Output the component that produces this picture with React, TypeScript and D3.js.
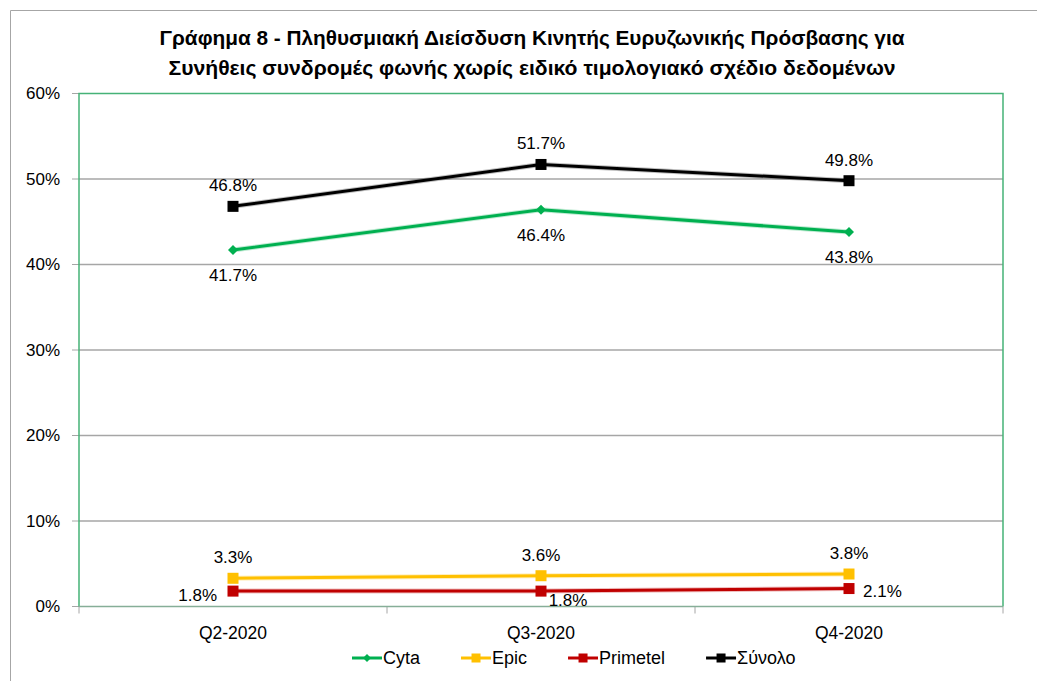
import React, { useRef, useEffect } from "react";
import * as d3 from "d3";

const categories = ["Q2-2020", "Q3-2020", "Q4-2020"];
const cyta = [41.7, 46.4, 43.8];
const epic = [3.3, 3.6, 3.8];
const primetel = [1.8, 1.8, 2.1];
const synolo = [46.8, 51.7, 49.8];
const yTicks = [0, 10, 20, 30, 40, 50, 60];
const titleLines = [
  "Γράφημα 8 - Πληθυσμιακή Διείσδυση Κινητής Ευρυζωνικής Πρόσβασης για",
  "Συνήθεις συνδρομές φωνής χωρίς ειδικό τιμολογιακό σχέδιο δεδομένων",
];

// where each point's label sits
const cytaPos = ["below", "below", "below"];
const epicPos = ["above", "above", "above"];
const primetelPos = ["left", "belowRight", "right"];
const synoloPos = ["above", "above", "above"];

const series = [
  { name: "Cyta", values: cyta, color: "#00B050", marker: "diamond", pos: cytaPos },
  { name: "Epic", values: epic, color: "#FFC000", marker: "square", pos: epicPos },
  { name: "Primetel", values: primetel, color: "#C00000", marker: "square", pos: primetelPos },
  { name: "Σύνολο", values: synolo, color: "#000000", marker: "square", pos: synoloPos },
];

const FONT = "'Liberation Sans', Arial, sans-serif";

function App() {
  const ref = useRef(null);

  useEffect(() => {
    const [width, height] = [1037, 681];
    const m = { left: 79, right: 1003, top: 93.5, bottom: 606.5 };

    const svg = d3.select(ref.current);
    svg.selectAll("*").remove();

    const x = d3.scaleBand().domain(categories).range([m.left, m.right]);
    const cx = (c) => x(c) + x.bandwidth() / 2;
    const y = d3.scaleLinear().domain([0, 60]).range([m.bottom, m.top]);

    // chart frame
    svg
      .append("path")
      .attr("d", `M10.5,${height} V10.5 H${width}`)
      .attr("fill", "none")
      .attr("stroke", "#A6A6A6")
      .attr("stroke-width", 1);

    // title
    svg
      .append("g")
      .selectAll("text")
      .data(titleLines)
      .join("text")
      .attr("x", 532)
      .attr("y", (d, i) => 45 + i * 30)
      .attr("text-anchor", "middle")
      .attr("font-family", FONT)
      .attr("font-weight", "bold")
      .attr("font-size", 19.5)
      .attr("textLength", (d, i) => (i === 0 ? 745 : 727))
      .attr("lengthAdjust", "spacingAndGlyphs")
      .attr("fill", "#000")
      .text((d) => d);

    // gridlines
    svg
      .append("g")
      .selectAll("line")
      .data(yTicks.filter((t) => t > 0 && t < 60))
      .join("line")
      .attr("x1", m.left)
      .attr("x2", m.right)
      .attr("y1", (d) => y(d))
      .attr("y2", (d) => y(d))
      .attr("stroke", "#A6A6A6")
      .attr("stroke-width", 1.5);

    // y axis ticks + labels
    const gy = svg.append("g");
    gy.selectAll("line")
      .data(yTicks)
      .join("line")
      .attr("x1", m.left - 7)
      .attr("x2", m.left)
      .attr("y1", (d) => y(d))
      .attr("y2", (d) => y(d))
      .attr("stroke", "#A6A6A6")
      .attr("stroke-width", 1);
    gy.selectAll("text")
      .data(yTicks)
      .join("text")
      .attr("x", 60)
      .attr("y", (d) => y(d))
      .attr("dy", "0.35em")
      .attr("text-anchor", "end")
      .attr("font-family", FONT)
      .attr("font-size", 17)
      .attr("fill", "#000")
      .text((d) => d + "%");

    // x axis
    const gx = svg.append("g");
    const bounds = categories.map((c) => x(c)).concat([m.right]);
    gx.selectAll("line")
      .data(bounds)
      .join("line")
      .attr("x1", (d) => d)
      .attr("x2", (d) => d)
      .attr("y1", m.bottom)
      .attr("y2", m.bottom + 7)
      .attr("stroke", "#A6A6A6")
      .attr("stroke-width", 1);
    gx.selectAll("text")
      .data(categories)
      .join("text")
      .attr("x", (d) => cx(d))
      .attr("y", 633)
      .attr("dy", "0.35em")
      .attr("text-anchor", "middle")
      .attr("font-family", FONT)
      .attr("font-size", 17.5)
      .attr("fill", "#000")
      .text((d) => d);

    // plot area border
    svg
      .append("path")
      .attr("d", `M${m.left},${m.bottom} V${m.top} H${m.right} V${m.bottom}`)
      .attr("fill", "none")
      .attr("stroke", "#46B277")
      .attr("stroke-width", 1.5);
    svg
      .append("line")
      .attr("x1", m.left)
      .attr("x2", m.right)
      .attr("y1", m.bottom)
      .attr("y2", m.bottom)
      .attr("stroke", "#86AE98")
      .attr("stroke-width", 1.5);

    const line = d3
      .line()
      .x((d, i) => cx(categories[i]))
      .y((d) => y(d));

    const drawMarker = (g, type, px, py, size, color) => {
      if (type === "diamond") {
        const r = size / 2;
        g.append("path")
          .attr("d", `M${px},${py - r} L${px + r},${py} L${px},${py + r} L${px - r},${py} Z`)
          .attr("fill", color);
      } else {
        g.append("rect")
          .attr("x", px - size / 2)
          .attr("y", py - size / 2)
          .attr("width", size)
          .attr("height", size)
          .attr("fill", color);
      }
    };

    series.forEach((s) => {
      const g = svg.append("g");
      g.append("path")
        .datum(s.values)
        .attr("d", line)
        .attr("fill", "none")
        .attr("stroke", s.color)
        .attr("stroke-opacity", 0.25)
        .attr("stroke-width", 5);
      g.append("path")
        .datum(s.values)
        .attr("d", line)
        .attr("fill", "none")
        .attr("stroke", s.color)
        .attr("stroke-width", 3);
      s.values.forEach((v, i) => {
        const px = cx(categories[i]);
        const py = y(v);
        drawMarker(g, s.marker, px, py, s.marker === "diamond" ? 10 : 11, s.color);

        const pos = s.pos[i];
        let tx = px;
        let ty = py;
        let anchor = "middle";
        if (pos === "above") ty = py - 21;
        else if (pos === "below") ty = py + 25;
        else if (pos === "left") {
          tx = px - 16;
          ty = py + 4;
          anchor = "end";
        } else if (pos === "right") {
          tx = px + 14;
          ty = py + 3;
          anchor = "start";
        } else if (pos === "belowRight") {
          tx = px + 27;
          ty = py + 9;
        }
        g.append("text")
          .attr("x", tx)
          .attr("y", ty)
          .attr("dy", "0.35em")
          .attr("text-anchor", anchor)
          .attr("font-family", FONT)
          .attr("font-size", 17)
          .attr("fill", "#000")
          .text(v.toFixed(1) + "%");
      });
    });

    // legend
    const legend = svg.append("g");
    let lx = 352;
    const ly = 658;
    series.forEach((s) => {
      const item = legend.append("g");
      item
        .append("line")
        .attr("x1", lx)
        .attr("x2", lx + 30)
        .attr("y1", ly)
        .attr("y2", ly)
        .attr("stroke", s.color)
        .attr("stroke-width", 3);
      drawMarker(item, s.marker, lx + 15, ly, s.marker === "diamond" ? 8 : 9, s.color);
      const t = item
        .append("text")
        .attr("x", lx + 31)
        .attr("y", ly)
        .attr("dy", "0.35em")
        .attr("font-family", FONT)
        .attr("font-size", 18)
        .attr("fill", "#000")
        .text(s.name);
      lx += 31 + t.node().getComputedTextLength() + 41;
    });
  }, []);

  return (
    <svg
      ref={ref}
      width={1037}
      height={681}
      style={{ position: "absolute", left: 0, top: 0, background: "#fff" }}
    />
  );
}

export default App;
